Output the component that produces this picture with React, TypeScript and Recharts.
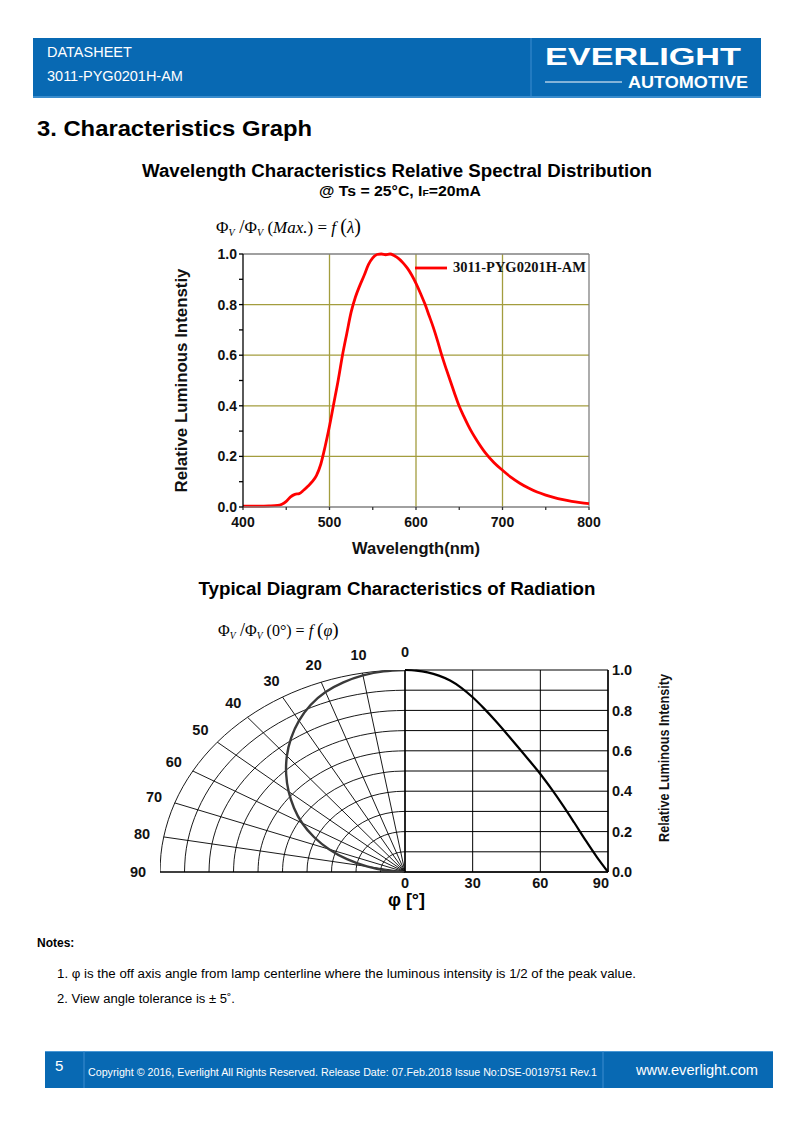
import React from 'react';
import { LineChart, Line, XAxis, YAxis, CartesianGrid, ReferenceLine, ReferenceDot, Legend } from 'recharts';

// ---------- Spectral distribution data ----------
const wavelengthNm = [400, 410, 420, 430, 440, 445, 450, 455, 460, 465, 470, 475, 480, 485, 490, 495, 500, 505, 510, 515, 520, 525, 530, 535, 540, 545, 550, 555, 560, 565, 570, 575, 580, 585, 590, 595, 600, 605, 610, 615, 620, 625, 630, 635, 640, 645, 650, 655, 660, 665, 670, 680, 690, 700, 710, 720, 730, 740, 750, 760, 770, 780, 790, 800];
const relSpectral = [0.003, 0.003, 0.003, 0.004, 0.006, 0.011, 0.022, 0.04, 0.05, 0.053, 0.066, 0.082, 0.1, 0.125, 0.17, 0.24, 0.32, 0.41, 0.5, 0.6, 0.686, 0.77, 0.83, 0.875, 0.915, 0.958, 0.985, 0.998, 1.0, 0.997, 1.0, 0.993, 0.982, 0.965, 0.944, 0.917, 0.884, 0.846, 0.805, 0.758, 0.71, 0.656, 0.597, 0.545, 0.495, 0.445, 0.398, 0.36, 0.325, 0.293, 0.265, 0.215, 0.176, 0.145, 0.117, 0.094, 0.075, 0.059, 0.047, 0.037, 0.029, 0.022, 0.017, 0.013];
const spectralXTicks = [400, 450, 500, 550, 600, 650, 700, 750, 800];
const spectralXLabels = [400, 500, 600, 700, 800];
const spectralYTicks = [0, 0.1, 0.2, 0.3, 0.4, 0.5, 0.6, 0.7, 0.8, 0.9, 1.0];
const spectralGridX = [500, 600, 700];
const spectralGridY = [0.2, 0.4, 0.6, 0.8];
const spectralSeriesName = '3011-PYG0201H-AM';

// ---------- Radiation characteristics data ----------
const angleDeg = [0, 5, 10, 15, 20, 25, 30, 35, 40, 45, 50, 55, 60, 65, 70, 75, 80, 85, 90];
const relRadiation = [1.0, 0.997, 0.988, 0.972, 0.948, 0.912, 0.865, 0.81, 0.75, 0.686, 0.62, 0.553, 0.485, 0.41, 0.33, 0.245, 0.158, 0.075, 0.0];
const polarRingRadii = [0.1, 0.2, 0.3, 0.4, 0.5, 0.6, 0.7, 0.8, 0.9, 1.0];
const polarSpokeAngles = [0, 10, 20, 30, 40, 50, 60, 70, 80, 90];
const polarRingSteps = [0, 5, 10, 15, 20, 25, 30, 35, 40, 45, 50, 55, 60, 65, 70, 75, 80, 85, 90];
const radiationXTicks = [0, 30, 60, 90];
const radiationYTicks = [0, 0.1, 0.2, 0.3, 0.4, 0.5, 0.6, 0.7, 0.8, 0.9, 1.0];

const SANS = '"Liberation Sans", Arial, Helvetica, sans-serif';
const SERIF = '"Liberation Serif", "Times New Roman", serif';
const BLUE = '#0869b3';
const OLIVE = '#a39d3e';

const rad = (d: number) => (d * Math.PI) / 180;

const spectralData = wavelengthNm.map((w, i) => ({ wl: w, v: relSpectral[i] }));
const radiationData = angleDeg.map((a, i) => ({ angle: a, v: relRadiation[i] }));
// polar projection of the same measured values (left half, angle measured from vertical)
const polarCurve = angleDeg.map((a, i) => ({ x: -relRadiation[i] * Math.sin(rad(a)), y: relRadiation[i] * Math.cos(rad(a)) }));
const polarRings = polarRingRadii.map((r) => polarRingSteps.map((a) => ({ x: -r * Math.sin(rad(a)), y: r * Math.cos(rad(a)) })));

const LABEL_R = 1.09;

function SpectralLegend() {
  return (
    <div style={{ display: 'flex', alignItems: 'center' }}>
      <svg width={34} height={6} style={{ display: 'block' }}>
        <line x1={1} y1={3} x2={33} y2={3} stroke="#ff0000" strokeWidth={2.8} />
      </svg>
      <span style={{ marginLeft: 5, fontFamily: SERIF, fontWeight: 'bold', fontSize: 14.5, color: '#111', whiteSpace: 'nowrap' }}>{spectralSeriesName}</span>
    </div>
  );
}

function SpectralChart() {
  return (
    <LineChart width={460} height={330} data={spectralData} margin={{ top: 14, right: 21, bottom: 33, left: 53 }}>
      {spectralGridX.map((x) => (
        <ReferenceLine key={'gx' + x} x={x} stroke={OLIVE} strokeWidth={1.3} />
      ))}
      {spectralGridY.map((y) => (
        <ReferenceLine key={'gy' + y} y={y} stroke={OLIVE} strokeWidth={1.3} />
      ))}
      <ReferenceLine y={1} stroke="#808080" strokeWidth={1.3} />
      <ReferenceLine x={800} stroke="#808080" strokeWidth={1.3} />
      <XAxis
        dataKey="wl"
        type="number"
        domain={[400, 800]}
        ticks={spectralXTicks}
        interval={0}
        tickFormatter={(v: number) => (spectralXLabels.includes(v) ? String(v) : '')}
        stroke="#808080"
        strokeWidth={1.3}
        tickSize={3}
        tickMargin={7}
        height={30}
        tick={{ fill: '#111', fontFamily: SANS, fontWeight: 'bold', fontSize: 14 }}
        tickLine={{ stroke: '#333' }}
        label={(p: any) => {
          const vb = p.viewBox || { x: 93, y: 267, width: 346, height: 30 };
          const cx = vb.x + vb.width / 2;
          return (
            <text x={cx} y={vb.y + 47} textAnchor="middle" fontFamily={SANS} fontWeight="bold" fontSize={17} fill="#111" textLength={128} lengthAdjust="spacingAndGlyphs">
              Wavelength(nm)
            </text>
          );
        }}
      />
      <YAxis
        type="number"
        domain={[0, 1]}
        ticks={spectralYTicks}
        interval={0}
        tickFormatter={(v: number) => (Math.round(v * 10) % 2 === 0 ? v.toFixed(1) : '')}
        stroke="#000"
        strokeWidth={1.3}
        width={40}
        tickSize={4}
        tickMargin={2}
        tick={{ fill: '#111', fontFamily: SANS, fontWeight: 'bold', fontSize: 14 }}
        label={(p: any) => {
          const vb = p.viewBox || { x: 53, y: 14, width: 40, height: 253 };
          const cx = vb.x - 22;
          const cy = vb.y + vb.height / 2;
          return (
            <text x={cx} y={cy} transform={`rotate(-90 ${cx} ${cy})`} textAnchor="middle" dominantBaseline="central" fontFamily={SANS} fontWeight="bold" fontSize={16} fill="#111" textLength={224} lengthAdjust="spacingAndGlyphs">
              Relative Luminous Intenstiy
            </text>
          );
        }}
      />
      <Legend
        layout="vertical"
        align="center"
        verticalAlign="middle"
        content={() => <SpectralLegend />}
        wrapperStyle={{ position: 'absolute', left: 264, top: 19, width: 200, height: 16 }}
      />
      <Line type="monotone" dataKey="v" name={spectralSeriesName} stroke="#ff0000" strokeWidth={2.8} dot={false} isAnimationActive={false} />
    </LineChart>
  );
}

function PolarChart() {
  return (
    <LineChart width={315} height={250} margin={{ top: 30, right: 20, bottom: 18, left: 50 }}>
      <XAxis dataKey="x" type="number" domain={[-1, 0]} allowDataOverflow hide />
      <YAxis type="number" domain={[0, 1]} allowDataOverflow hide />
      {polarSpokeAngles.map((a) => (
        <ReferenceLine
          key={'sp' + a}
          segment={[
            { x: 0, y: 0 },
            { x: -Math.sin(rad(a)), y: Math.cos(rad(a)) },
          ]}
          stroke="#000"
          strokeWidth={a === 0 || a === 90 ? 1.4 : 0.9}
          ifOverflow="visible"
        />
      ))}
      {polarRings.map((ring, i) => (
        <Line key={'ring' + i} data={ring} dataKey="y" type="natural" stroke="#000" strokeWidth={0.9} dot={false} activeDot={false} isAnimationActive={false} legendType="none" />
      ))}
      <Line data={polarCurve} dataKey="y" type="natural" stroke="#3a3a3a" strokeWidth={2.4} dot={false} activeDot={false} isAnimationActive={false} />
      {polarSpokeAngles.map((a) => (
        <ReferenceDot
          key={'lb' + a}
          x={-LABEL_R * Math.sin(rad(a))}
          y={LABEL_R * Math.cos(rad(a))}
          r={0}
          ifOverflow="visible"
          shape={(p: any) => (
            <text x={p.cx} y={p.cy} textAnchor="middle" dominantBaseline="central" fontFamily={SANS} fontWeight="bold" fontSize={14.5} fill="#111">
              {a}
            </text>
          )}
        />
      ))}
    </LineChart>
  );
}

function RadiationXTick(props: any) {
  const { x, y, payload } = props;
  const last = payload.value === radiationXTicks[radiationXTicks.length - 1];
  return (
    <text x={last ? x + 1 : x} y={y} dy={11} textAnchor={last ? 'end' : 'middle'} fontFamily={SANS} fontWeight="bold" fontSize={14.5} fill="#111">
      {payload.value}
    </text>
  );
}

function RadiationChart() {
  return (
    <LineChart width={300} height={270} data={radiationData} margin={{ top: 30, right: 47, bottom: 8, left: 10 }}>
      <CartesianGrid stroke="#000" strokeWidth={1} />
      <XAxis
        dataKey="angle"
        type="number"
        domain={[0, 90]}
        ticks={radiationXTicks}
        interval={0}
        stroke="#000"
        strokeWidth={1.4}
        tickLine={false}
        tickSize={0}
        tickMargin={5}
        height={30}
        tick={<RadiationXTick />}
      />
      <YAxis
        orientation="right"
        type="number"
        domain={[0, 1]}
        ticks={radiationYTicks}
        interval={0}
        tickFormatter={(v: number) => (Math.round(v * 10) % 2 === 0 ? v.toFixed(1) : '')}
        stroke="#000"
        strokeWidth={1.4}
        tickLine={false}
        tickSize={0}
        tickMargin={4}
        width={40}
        tick={{ fill: '#111', fontFamily: SANS, fontWeight: 'bold', fontSize: 14.5 }}
        label={(p: any) => {
          const vb = p.viewBox || { x: 213, y: 30, width: 40, height: 202 };
          const cx = vb.x + 56;
          const cy = vb.y + vb.height / 2 - 13;
          return (
            <text x={cx} y={cy} transform={`rotate(-90 ${cx} ${cy})`} textAnchor="middle" dominantBaseline="central" fontFamily={SANS} fontWeight="bold" fontSize={14.5} fill="#111" textLength={168} lengthAdjust="spacingAndGlyphs">
              Relative Luminous Intensity
            </text>
          );
        }}
      />
      <Line type="monotone" dataKey="v" stroke="#000" strokeWidth={2.2} dot={false} isAnimationActive={false} />
    </LineChart>
  );
}

export default function App() {
  return (
    <div style={{ position: 'absolute', left: 0, top: 0, width: 794, height: 1123, background: '#fff', overflow: 'hidden' }}>
      <svg width={794} height={1123} style={{ position: 'absolute', left: 0, top: 0 }}>
        {/* Header */}
        <rect x={33} y={38} width={728} height={60} fill={BLUE} />
        <line x1={33} y1={97} x2={761} y2={97} stroke="#4a98d6" strokeWidth={1.5} />
        <line x1={531} y1={38} x2={531} y2={97} stroke="#3d8dcf" strokeWidth={1} />
        <text x={47} y={57} fill="#fff" fontFamily={SANS} fontSize={14.5}>DATASHEET</text>
        <text x={47} y={81} fill="#fff" fontFamily={SANS} fontSize={14.5}>3011-PYG0201H-AM</text>
        <text x={545} y={65} fill="#fff" fontFamily={SANS} fontWeight="bold" fontSize={23} textLength={196} lengthAdjust="spacingAndGlyphs">EVERLIGHT</text>
        <line x1={545} y1={82} x2={622} y2={82} stroke="#fff" strokeWidth={1} />
        <text x={628} y={88} fill="#fff" fontFamily={SANS} fontWeight="bold" fontSize={17} textLength={120} lengthAdjust="spacingAndGlyphs">AUTOMOTIVE</text>

        {/* Section title */}
        <text x={37} y={136} fill="#000" fontFamily={SANS} fontWeight="bold" fontSize={22.5} textLength={275} lengthAdjust="spacingAndGlyphs">3. Characteristics Graph</text>

        {/* Chart 1 titles */}
        <text x={397} y={177} textAnchor="middle" fill="#000" fontFamily={SANS} fontWeight="bold" fontSize={17.5} textLength={510} lengthAdjust="spacingAndGlyphs">Wavelength Characteristics Relative Spectral Distribution</text>
        <text x={400} y={196} textAnchor="middle" fill="#000" fontFamily={SANS} fontWeight="bold" fontSize={14.5} textLength={162} lengthAdjust="spacingAndGlyphs">
          @ Ts = 25°C, I<tspan fontSize={9.5}>F</tspan>=20mA
        </text>
        <text x={216} y={233} fill="#000" fontFamily={SERIF} fontSize={17}>
          Φ<tspan fontSize={10} fontStyle="italic" dy={3}>V</tspan>
          <tspan dy={-3} fontSize={19}> /</tspan>Φ<tspan fontSize={10} fontStyle="italic" dy={3}>V</tspan>
          <tspan dy={-3}> (</tspan><tspan fontStyle="italic">Max.</tspan>) = <tspan fontStyle="italic">f </tspan>
          <tspan fontSize={20}>(</tspan><tspan fontStyle="italic">λ</tspan><tspan fontSize={20}>)</tspan>
        </text>

        {/* Chart 2 titles */}
        <text x={397} y={595} textAnchor="middle" fill="#000" fontFamily={SANS} fontWeight="bold" fontSize={17.5} textLength={397} lengthAdjust="spacingAndGlyphs">Typical Diagram Characteristics of Radiation</text>
        <text x={218} y={636} fill="#000" fontFamily={SERIF} fontSize={16}>
          Φ<tspan fontSize={9.5} fontStyle="italic" dy={3}>V</tspan>
          <tspan dy={-3} fontSize={18}> /</tspan>Φ<tspan fontSize={9.5} fontStyle="italic" dy={3}>V</tspan>
          <tspan dy={-3}> (0°) = </tspan><tspan fontStyle="italic">f </tspan>
          <tspan fontSize={19}>(</tspan><tspan fontStyle="italic">φ</tspan><tspan fontSize={19}>)</tspan>
        </text>
        <text x={388} y={906} fill="#000" fontFamily={SANS} fontWeight="bold" fontSize={18}>φ [°]</text>

        {/* Notes */}
        <text x={37} y={947} fill="#000" fontFamily={SANS} fontWeight="bold" fontSize={12}>Notes:</text>
        <text x={57} y={978} fill="#000" fontFamily={SANS} fontSize={12.5} textLength={579} lengthAdjust="spacingAndGlyphs">1. φ is the off axis angle from lamp centerline where the luminous intensity is 1/2 of the peak value.</text>
        <text x={57} y={1003} fill="#000" fontFamily={SANS} fontSize={12.5} textLength={178} lengthAdjust="spacingAndGlyphs">2. View angle tolerance is ± 5˚.</text>

        {/* Footer */}
        <rect x={45} y={1051} width={728} height={37} fill={BLUE} />
        <line x1={45} y1={1051.5} x2={773} y2={1051.5} stroke="#4a98d6" strokeWidth={1} />
        <line x1={84} y1={1051} x2={84} y2={1088} stroke="#3d8dcf" strokeWidth={1} />
        <line x1={603} y1={1051} x2={603} y2={1088} stroke="#3d8dcf" strokeWidth={1} />
        <text x={55} y={1071} fill="#fff" fontFamily={SANS} fontSize={15}>5</text>
        <text x={88} y={1076} fill="#fff" fontFamily={SANS} fontSize={11} textLength={509} lengthAdjust="spacingAndGlyphs">Copyright © 2016, Everlight All Rights Reserved. Release Date: 07.Feb.2018 Issue No:DSE-0019751 Rev.1</text>
        <text x={636} y={1075} fill="#fff" fontFamily={SANS} fontSize={14.5} textLength={122} lengthAdjust="spacingAndGlyphs">www.everlight.com</text>
      </svg>

      <div style={{ position: 'absolute', left: 150, top: 240 }}>
        <SpectralChart />
      </div>
      <div style={{ position: 'absolute', left: 110, top: 640 }}>
        <PolarChart />
      </div>
      <div style={{ position: 'absolute', left: 395, top: 640 }}>
        <RadiationChart />
      </div>
    </div>
  );
}
